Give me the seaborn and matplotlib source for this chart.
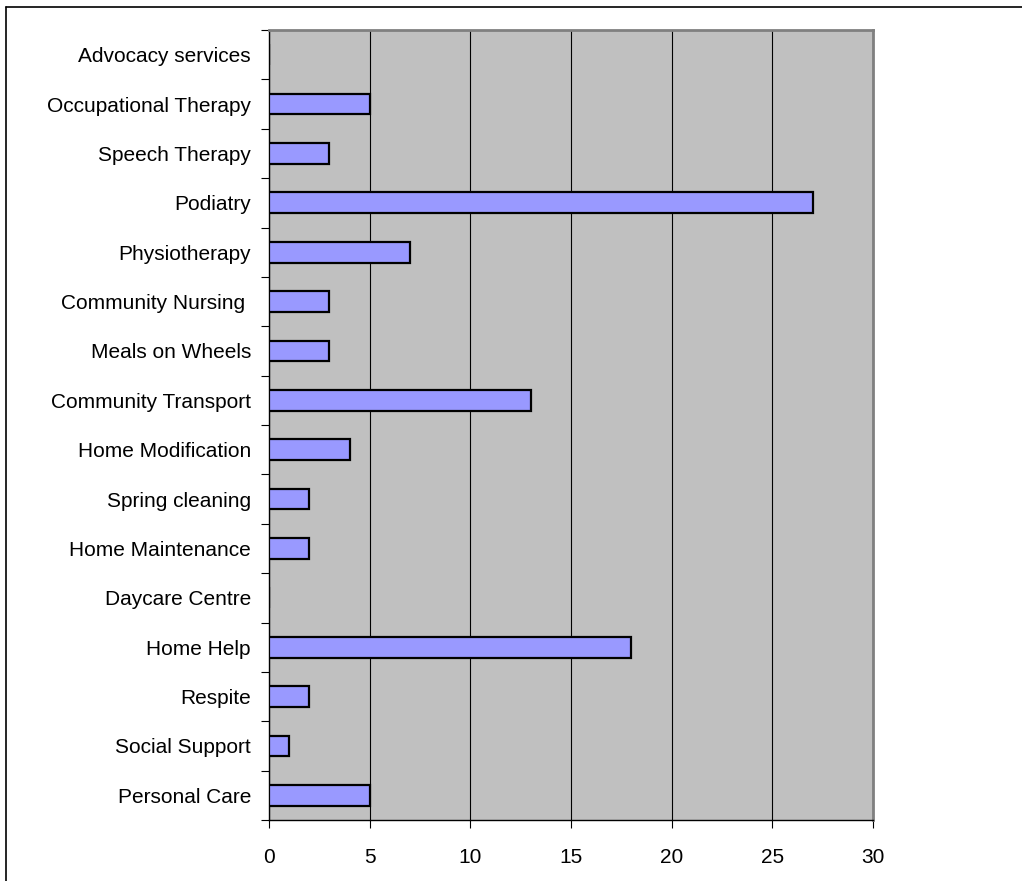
import matplotlib
matplotlib.use("Agg")
import matplotlib.pyplot as plt
from matplotlib.lines import Line2D
from matplotlib.ticker import FixedLocator
import seaborn as sns
import pandas as pd

services = [
    "Advocacy services", "Occupational Therapy", "Speech Therapy", "Podiatry",
    "Physiotherapy", "Community Nursing ", "Meals on Wheels", "Community Transport",
    "Home Modification", "Spring cleaning", "Home Maintenance", "Daycare Centre",
    "Home Help", "Respite", "Social Support", "Personal Care",
]
counts = [0, 5, 3, 27, 7, 3, 3, 13, 4, 2, 2, 0, 18, 2, 1, 5]
x_ticks = [0, 5, 10, 15, 20, 25, 30]

df = pd.DataFrame({"service": services, "count": counts})

sns.set_style("white")
plt.rcParams["font.family"] = ["Liberation Sans", "DejaVu Sans"]

fig = plt.figure(figsize=(10.22, 8.81), dpi=100)
ax = fig.add_axes([269 / 1022, 1 - 820 / 881, (873 - 269) / 1022, (820 - 30) / 881])
ax.set_facecolor("#C0C0C0")

sns.barplot(data=df, y="service", x="count", order=services, orient="h",
            color="#9999FF", saturation=1, width=0.42,
            edgecolor="black", linewidth=1.6, ax=ax, zorder=3)

ax.set_xlim(0, 30)
ax.xaxis.set_major_locator(FixedLocator(x_ticks))
ax.grid(axis="x", color="black", linewidth=0.8, zorder=1)
ax.set_axisbelow(True)
ax.set_xlabel("")
ax.set_ylabel("")

# category labels at centres, tick marks at category boundaries
n = len(services)
ax.yaxis.set_minor_locator(FixedLocator([i - 0.5 for i in range(n + 1)]))
ax.tick_params(axis="y", which="major", left=True, length=0, pad=13,
               labelsize=15, labelcolor="black")
ax.tick_params(axis="y", which="minor", left=True, length=6, width=0.8,
               color="black", direction="out")
ax.tick_params(axis="x", which="major", bottom=True, length=6, width=0.8, color="black",
               direction="out", pad=14, labelsize=15, labelcolor="black")

for side in ["left", "bottom"]:
    ax.spines[side].set_color("black")
    ax.spines[side].set_linewidth(1.0)
for side in ["top", "right"]:
    ax.spines[side].set_color("#808080")
    ax.spines[side].set_linewidth(2.0)

# outer frame on the top and left edges of the figure
fig.add_artist(Line2D([6 / 1022, 6 / 1022], [0, 1 - 7 / 881], transform=fig.transFigure,
                      color="black", linewidth=1.2))
fig.add_artist(Line2D([6 / 1022, 1], [1 - 7 / 881, 1 - 7 / 881], transform=fig.transFigure,
                      color="black", linewidth=1.2))

fig.savefig("out.png", dpi=100)
